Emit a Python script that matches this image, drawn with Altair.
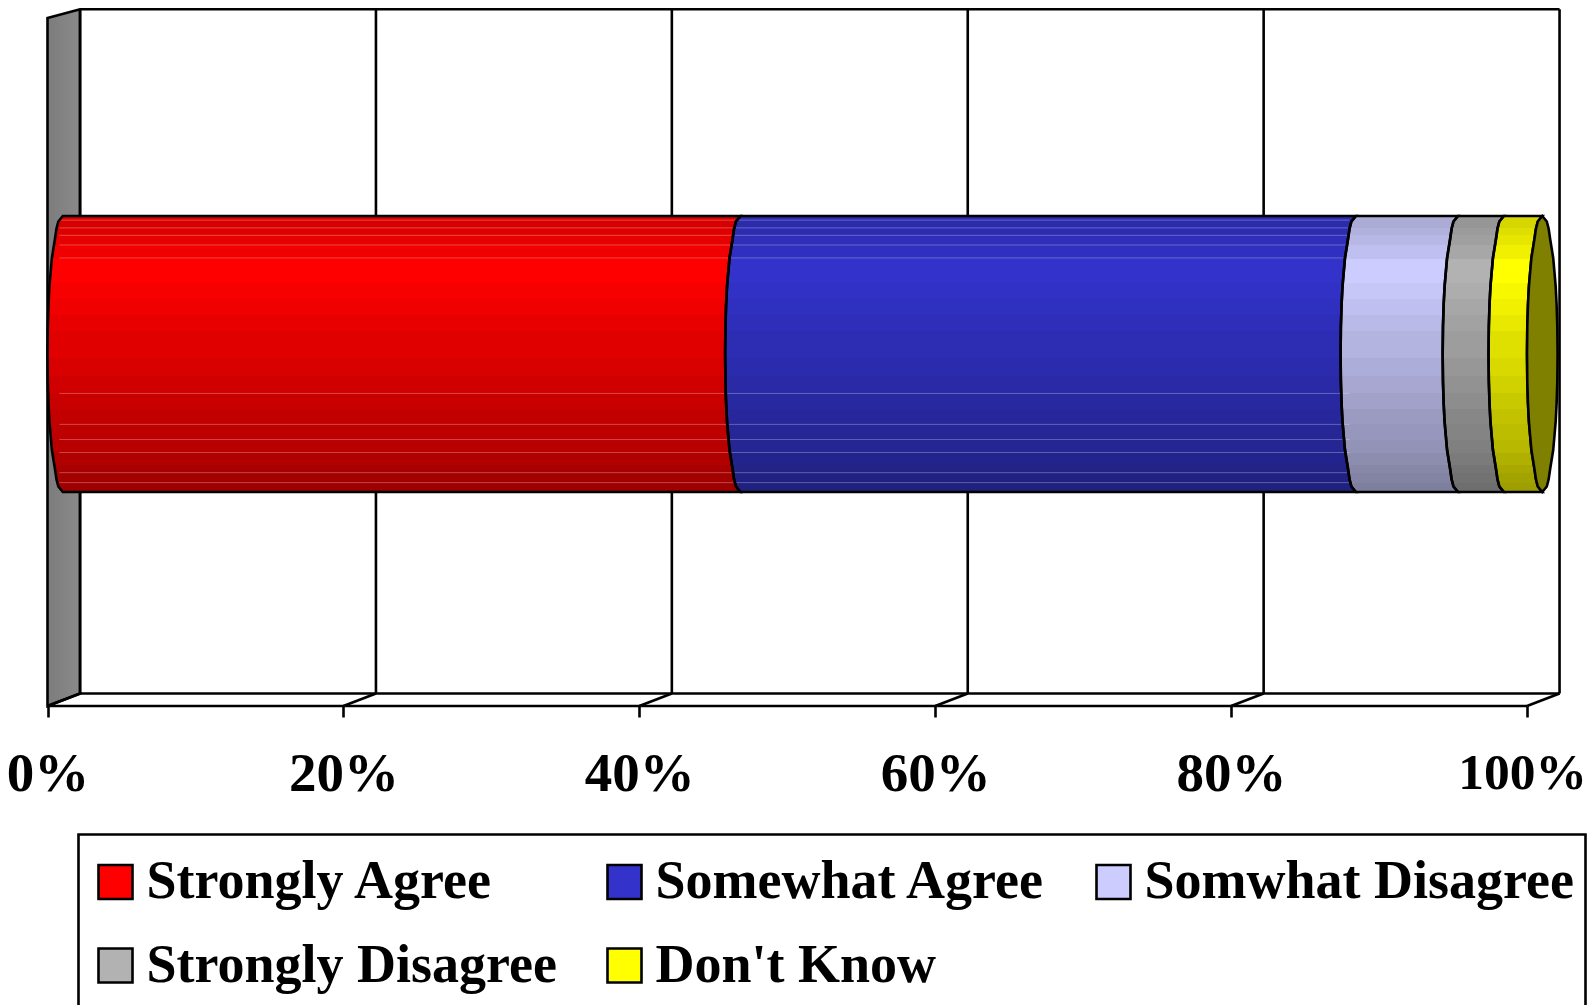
import altair as alt
import pandas as pd

# ---- chart values
SERIES = ["Strongly Agree", "Somewhat Agree", "Somwhat Disagree", "Strongly Disagree", "Don't Know"]
VALUES = [45.8, 41.6, 6.9, 3.1, 2.6]
COLORS = ["#FF0000", "#3333CC", "#CCCCFF", "#B2B2B2", "#FFFF00"]
TICKS = [0, 20, 40, 60, 80, 100]

FONT = "Liberation Serif"
LW = 2.6
PX_PER_PCT = 14.795
X_ZERO = 47.5        # page x of 0 %
WIDTH, HEIGHT = 1579, 997
X_DOMAIN = [(8 - X_ZERO) / PX_PER_PCT, (8 + WIDTH - X_ZERO) / PX_PER_PCT]
Y_DOMAIN = [8, 8 + HEIGHT]
DEPTH = 2.2          # 3-D depth, percent units
Y_TOP, Y_TOP_FRONT, Y_BACK, Y_FRONT = 9.3, 18, 693.5, 706
BAR_TOP, BAR_BOTTOM = 216, 492

# cylinder end profile: fraction of bar height / horizontal inset in px
CAP_T = [0, 0.02, 0.045, 0.087, 0.152, 0.21, 0.256, 0.32, 0.40, 0.5,
         0.60, 0.68, 0.744, 0.79, 0.848, 0.913, 0.955, 0.98, 1]
CAP_IN = [15.3, 10.8, 9.0, 7.3, 4.4, 3.0, 1.9, 1.0, 0.3, 0,
          0.3, 1.0, 1.9, 3.0, 4.4, 7.3, 9.0, 10.8, 15.3]

# shading bands: band edges (fraction of bar height) and brightness factors
BAND_T = [0, .045, .07, .105, .154, .2, .243, .3, .36, .416, .516, .58, .643, .7, .755, .81, .857, .903, .93, .966, 1]
BAND_F = [.84, .87, .90, .94, 1, 1, .97, .94, .91, .88, .85, .82, .79, .76, .74, .72, .69, .66, .64, .62]
SEAM_T = [.015, .043, .07, .105, .152, .643, .755, .81, .857, .93, .966]


def shade(hex_color, f):
    r, g, b = [int(hex_color[i:i + 2], 16) for i in (1, 3, 5)]
    return "#%02x%02x%02x" % (round(r * f), round(g * f), round(b * f))


def gradient(hex_color):
    stops = []
    for i, f in enumerate(BAND_F):
        c = shade(hex_color, f)
        stops.append(alt.GradientStop(color=c, offset=BAND_T[i]))
        stops.append(alt.GradientStop(color=c, offset=BAND_T[i + 1]))
    return alt.Gradient(gradient="linear", stops=stops, x1=0, x2=0, y1=0, y2=1)


xs = alt.Scale(domain=X_DOMAIN, nice=False, zero=False)
ys = alt.Scale(domain=Y_DOMAIN, range=[0, HEIGHT], nice=False, zero=False)
x_axis = alt.Axis(
    values=TICKS, labelExpr="datum.value + '%'", title=None, grid=False, domain=False,
    tickSize=11, tickWidth=LW, tickColor="black", labelFont=FONT, labelFontWeight="bold",
    labelFontSize={"condition": {"test": "datum.value === 100", "value": 51.5}, "value": 55},
    labelOffset={"condition": {"test": "datum.value === 100", "value": -5}, "value": 0},
    labelColor="black", labelPadding=30, labelOverlap=False, labelFlush=False,
    labelBound=False, offset=-(8 + HEIGHT - Y_FRONT))
X = alt.X("x:Q", scale=xs, axis=x_axis)
X2 = alt.X2("x2:Q")
Y = alt.Y("y:Q", scale=ys, axis=None)
Y2 = alt.Y2("y2:Q")


def seg_rows(name, start, end, right_mirror=False):
    rows = []
    for t, off in zip(CAP_T, CAP_IN):
        left = start + off / PX_PER_PCT
        right = end + (2 * CAP_IN[0] - off if right_mirror else off) / PX_PER_PCT
        rows.append({"series": name, "x": left, "x2": right, "y": BAR_TOP + t * (BAR_BOTTOM - BAR_TOP)})
    return rows


rows, acc = [], 0.0
for s, v in zip(SERIES, VALUES):
    rows += seg_rows(s, acc, acc + v)
    acc += v
bar_df = pd.DataFrame(rows)
cap_df = pd.DataFrame(seg_rows("cap", acc, acc, right_mirror=True))

# ---- frame
wall_df = pd.DataFrame([
    {"x": 0, "y": Y_TOP_FRONT, "y2": Y_FRONT},
    {"x": DEPTH, "y": Y_TOP, "y2": Y_BACK},
])
wall = alt.Chart(wall_df).mark_area(
    orient="vertical", stroke="black", strokeWidth=LW,
    color=alt.Gradient(gradient="linear", x1=0, x2=1, y1=0, y2=0, stops=[
        alt.GradientStop(color="#7c7c7c", offset=0), alt.GradientStop(color="#8a8a8a", offset=1)]),
).encode(x=X, y=Y, y2=Y2)

lines = [{"x": DEPTH, "x2": 100 + DEPTH, "y": Y_TOP, "y2": Y_TOP},
         {"x": DEPTH, "x2": 100 + DEPTH, "y": Y_BACK, "y2": Y_BACK},
         {"x": 0, "x2": 100, "y": Y_FRONT, "y2": Y_FRONT}]
for t in TICKS:
    lines.append({"x": t + DEPTH, "x2": t + DEPTH, "y": Y_TOP, "y2": Y_BACK})
    lines.append({"x": t, "x2": t + DEPTH, "y": Y_FRONT, "y2": Y_BACK})
frame = alt.Chart(pd.DataFrame(lines)).mark_rule(color="black", strokeWidth=LW).encode(x=X, x2=X2, y=Y, y2=Y2)

# ---- bar
base = alt.Chart(bar_df).mark_area(orient="horizontal").encode(
    x=X, x2=X2, y=Y,
    color=alt.Color("series:N", sort=SERIES, scale=alt.Scale(domain=SERIES, range=COLORS), legend=alt.Legend(
        title=None, orient="none", legendX=80.5, legendY=847, direction="horizontal", columns=3,
        columnPadding=40, rowPadding=29.5, symbolType="square", symbolSize=1156, symbolStrokeColor="black",
        symbolStrokeWidth=LW, labelFont=FONT, labelFontWeight="bold", labelFontSize=54, labelOffset=4,
        labelLimit=700, labelColor="black", padding=0,
    )),
)
shaded = [
    alt.Chart(bar_df[bar_df["series"] == s]).mark_area(orient="horizontal", color=gradient(c)).encode(x=X, x2=X2, y=Y)
    for s, c in zip(SERIES, COLORS)
]
seam_df = pd.DataFrame([
    {"x": 0.8, "x2": VALUES[0] + VALUES[1] + 0.6, "y": BAR_TOP + t * (BAR_BOTTOM - BAR_TOP)} for t in SEAM_T
])
seams = alt.Chart(seam_df).mark_rule(color="white", strokeWidth=1, opacity=0.28).encode(x=X, x2=X2, y=Y)
outline = alt.Chart(bar_df).mark_area(orient="horizontal", fillOpacity=0, stroke="black", strokeWidth=LW).encode(
    x=X, x2=X2, y=Y, detail="series:N")
cap = alt.Chart(cap_df).mark_area(orient="horizontal", color="#808000", stroke="black", strokeWidth=LW).encode(
    x=X, x2=X2, y=Y)

# ---- legend frame
box_df = pd.DataFrame([{"x": (78.5 - X_ZERO) / PX_PER_PCT, "x2": (1585.5 - X_ZERO) / PX_PER_PCT, "y": 834.5, "y2": 1030}])
box = alt.Chart(box_df).mark_rect(fill="white", stroke="black", strokeWidth=LW).encode(x=X, x2=X2, y=Y, y2=Y2)

chart = alt.layer(wall, frame, box, base, *shaded, seams, outline, cap).properties(
    width=WIDTH, height=HEIGHT, padding=0, autosize=alt.AutoSizeParams(type="none"), background="white",
).configure_view(stroke=None)

chart.save("out.html", embed_options={"renderer": "svg", "actions": False})
